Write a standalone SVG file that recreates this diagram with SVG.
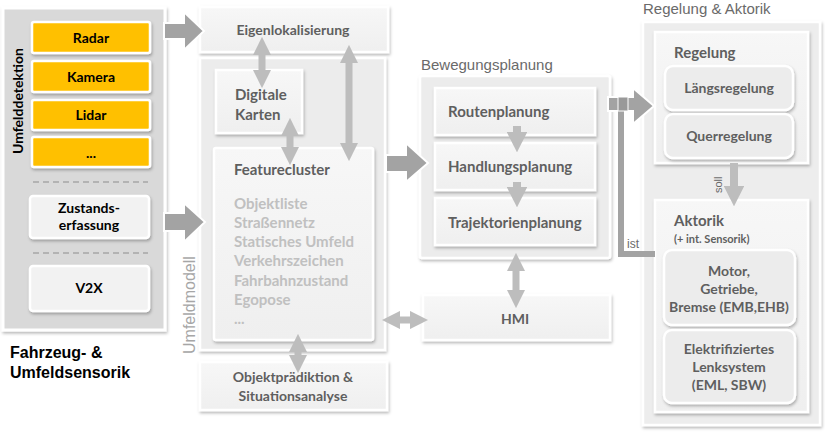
<svg xmlns="http://www.w3.org/2000/svg" width="825" height="432" viewBox="0 0 825 432">
<defs>
<filter id="sh" x="-10%" y="-10%" width="125%" height="130%">
<feDropShadow dx="1" dy="2" stdDeviation="1.5" flood-color="#000" flood-opacity="0.28"/>
</filter>
<linearGradient id="g1" x1="0" y1="0" x2="0" y2="1">
<stop offset="0" stop-color="#f7f7f7"/><stop offset="1" stop-color="#efefef"/>
</linearGradient>
<marker id="ah" viewBox="0 0 10 10" refX="5" refY="5" markerWidth="2.6" markerHeight="2.6" orient="auto-start-reverse">
<path d="M0,0 L10,5 L0,10 Z" fill="#bdbdbd"/>
</marker>
<style>
.pan{fill:#d9d9d9;stroke:#fff;stroke-width:3;filter:url(#sh)}
.org{fill:#ffc000;stroke:#fff;stroke-width:2.5;filter:url(#sh)}
.lt{fill:#f2f2f2;stroke:#fff;stroke-width:2.5;filter:url(#sh)}
.bx{fill:url(#g1);stroke:#fff;stroke-width:2.5;filter:url(#sh)}
.ob{fill:#ececec;stroke:#fff;stroke-width:2.5;filter:url(#sh)}
.rb{fill:#ededed;stroke:#fff;stroke-width:2.5;filter:url(#sh)}
.t{font-family:Lato,"Open Sans",sans-serif;font-weight:bold;font-size:14px;fill:#000;text-anchor:middle}
.g{font-family:Lato,"Open Sans",sans-serif;font-weight:bold;font-size:15px;fill:#5f5f5f}
.gc{font-family:Lato,"Open Sans",sans-serif;font-weight:bold;font-size:14px;fill:#5f5f5f;text-anchor:middle}
.li{font-family:Lato,"Open Sans",sans-serif;font-weight:bold;font-size:15px;fill:#c0c0c0}
.h{font-family:"Liberation Sans",Arial,sans-serif;font-size:15px;fill:#6a6a6a}
.big{fill:#a3a3a3;stroke:#fff;stroke-width:2}
.dbl{stroke:#bdbdbd;stroke-width:7;fill:none;marker-start:url(#ah);marker-end:url(#ah)}
.one{stroke:#bdbdbd;stroke-width:8;fill:none;marker-end:url(#ah)}
.dash{stroke:#a6a6a6;stroke-width:1.5;stroke-dasharray:6,4}
</style>
</defs>

<g id="sensorik">
<rect class="pan" x="3" y="8" width="162" height="322"/>
<text transform="translate(23,154) rotate(-90)" font-family="Lato,'Open Sans',sans-serif" font-weight="bold" font-size="14" fill="#000">Umfelddetektion</text>
<g id="radar"><rect class="org" x="32" y="22" width="118" height="31" rx="2"/><text class="t" x="91" y="43">Radar</text></g>
<g id="kamera"><rect class="org" x="32" y="61" width="118" height="31" rx="2"/><text class="t" x="91" y="82">Kamera</text></g>
<g id="lidar"><rect class="org" x="32" y="100" width="118" height="30" rx="2"/><text class="t" x="91" y="120">Lidar</text></g>
<g id="dots"><rect class="org" x="32" y="137" width="118" height="30" rx="2"/><text class="t" x="91" y="158">...</text></g>
<line class="dash" x1="33" y1="182" x2="148" y2="182"/>
<g id="zustand"><rect class="lt" x="30" y="196" width="119" height="42" rx="3"/><text class="t" x="89" y="213" font-size="12">Zustands-</text><text class="t" x="89" y="230" font-size="12">erfassung</text></g>
<line class="dash" x1="33" y1="253" x2="148" y2="253"/>
<g id="v2x"><rect class="lt" x="30" y="266" width="119" height="45" rx="3"/><text class="t" x="89" y="293" font-size="12">V2X</text></g>
<text x="10" y="358" font-family="'Liberation Sans',Arial,sans-serif" font-weight="bold" font-size="16" fill="#000">Fahrzeug- &amp;</text>
<text x="10" y="378" font-family="'Liberation Sans',Arial,sans-serif" font-weight="bold" font-size="16" fill="#000">Umfeldsensorik</text>
</g>

<g id="eigenlokalisierung"><rect class="bx" x="200" y="7" width="188" height="45"/><text class="gc" x="293" y="35" font-size="16">Eigenlokalisierung</text></g>

<g id="umfeldmodell">
<rect class="ob" x="200" y="58" width="185" height="292"/>
<text transform="translate(195,354) rotate(-90)" font-family="'Liberation Sans',Arial,sans-serif" font-size="16" fill="#a6a6a6">Umfeldmodell</text>
<g id="karten"><rect class="bx" x="216" y="70" width="86" height="63"/><text class="g" x="235" y="100">Digitale</text><text class="g" x="235" y="120">Karten</text></g>
<g id="featurecluster"><rect class="bx" x="214" y="148" width="159" height="192" rx="2"/>
<text class="g" x="234" y="175">Featurecluster</text>
<text class="li" x="234" y="209">Objektliste</text>
<text class="li" x="234" y="228">Straßennetz</text>
<text class="li" x="234" y="247">Statisches Umfeld</text>
<text class="li" x="234" y="266">Verkehrszeichen</text>
<text class="li" x="234" y="286">Fahrbahnzustand</text>
<text class="li" x="234" y="305">Egopose</text>
<text class="li" x="234" y="324" font-size="11" font-weight="normal">...</text>
</g>
</g>

<g id="objektpraediktion"><rect class="bx" x="200" y="362" width="187" height="48"/><text class="gc" x="293" y="382" font-size="15">Objektprädiktion &amp;</text><text class="gc" x="293" y="401" font-size="15">Situationsanalyse</text></g>

<g id="bewegungsplanung">
<text class="h" x="421" y="70">Bewegungsplanung</text>
<rect class="ob" x="420" y="76" width="190" height="182" rx="2"/>
<g id="routen"><rect class="bx" x="435" y="88" width="160" height="47"/><text class="g" x="448" y="117" font-size="16">Routenplanung</text></g>
<g id="handlung"><rect class="bx" x="435" y="143" width="160" height="47"/><text class="g" x="448" y="172" font-size="16">Handlungsplanung</text></g>
<g id="trajektorie"><rect class="bx" x="435" y="198" width="160" height="47"/><text class="g" x="448" y="228" font-size="16">Trajektorienplanung</text></g>
</g>

<g id="hmi"><rect class="bx" x="423" y="295" width="187" height="45"/><text class="gc" x="515" y="324" font-size="15">HMI</text></g>

<g id="regelung-aktorik">
<text class="h" x="643" y="14">Regelung &amp; Aktorik</text>
<rect class="rb" x="643" y="22" width="177" height="403"/>
<g id="regelung"><rect class="bx" x="655" y="32" width="153" height="131"/>
<text class="g" x="674" y="58">Regelung</text>
<g id="laengs"><rect class="ob" x="665" y="66" width="128" height="44" rx="8"/><text class="gc" x="729" y="93" font-size="16">Längsregelung</text></g>
<g id="quer"><rect class="ob" x="665" y="114" width="128" height="44" rx="8"/><text class="gc" x="729" y="141" font-size="16">Querregelung</text></g>
</g>
<g id="aktorik"><rect class="bx" x="655" y="200" width="153" height="212"/>
<text class="g" x="674" y="226">Aktorik</text>
<text x="674" y="243" font-family="Lato,'Open Sans',sans-serif" font-weight="bold" font-size="11" fill="#5f5f5f">(+ int. Sensorik)</text>
<g id="motor"><rect class="ob" x="664" y="250" width="131" height="75" rx="8"/><text class="gc" x="729" y="276">Motor,</text><text class="gc" x="729" y="294">Getriebe,</text><text class="gc" x="729" y="312">Bremse (EMB,EHB)</text></g>
<g id="lenk"><rect class="ob" x="664" y="330" width="131" height="73" rx="8"/><text class="gc" x="729" y="354">Elektrifiziertes</text><text class="gc" x="729" y="372">Lenksystem</text><text class="gc" x="729" y="390">(EML, SBW)</text></g>
</g>
</g>

<g id="connectors">
<polygon class="big" points="164,23 184,23 184,12 204,31 184,50 184,39 164,39"/>
<polygon class="big" points="164,213 184,213 184,203 205,222 184,242 184,231 164,231"/>
<polygon class="big" points="386,155 406,155 406,143 428,163 406,182 406,172 386,172"/>
<polygon class="big" points="608,97 633,97 633,88 654,106 633,124 633,111 608,111"/>
<polyline points="655,254 621,254 621,102" fill="none" stroke="#a3a3a3" stroke-width="6"/>
<rect x="618" y="97" width="10" height="14" fill="#999" stroke="#fff" stroke-width="1"/>
<text x="627" y="248" font-family="'Liberation Sans',Arial,sans-serif" font-size="12" fill="#6a6a6a">ist</text>
<line class="dbl" x1="262" y1="46" x2="262" y2="79"/>
<line class="dbl" x1="290" y1="127" x2="290" y2="156"/>
<line class="dbl" x1="349" y1="54" x2="349" y2="152"/>
<line class="dbl" x1="298" y1="343" x2="298" y2="364"/>
<line class="dbl" x1="391" y1="320" x2="419" y2="320"/>
<line class="dbl" x1="516" y1="262" x2="516" y2="299"/>
<line class="one" x1="517" y1="126" x2="517" y2="142"/>
<line class="one" x1="517" y1="182" x2="517" y2="197"/>
<line class="one" x1="734" y1="163" x2="734" y2="196"/>
<text transform="translate(722,193) rotate(-90)" font-family="'Liberation Sans',Arial,sans-serif" font-size="11" fill="#6a6a6a">soll</text>
</g>
</svg>
